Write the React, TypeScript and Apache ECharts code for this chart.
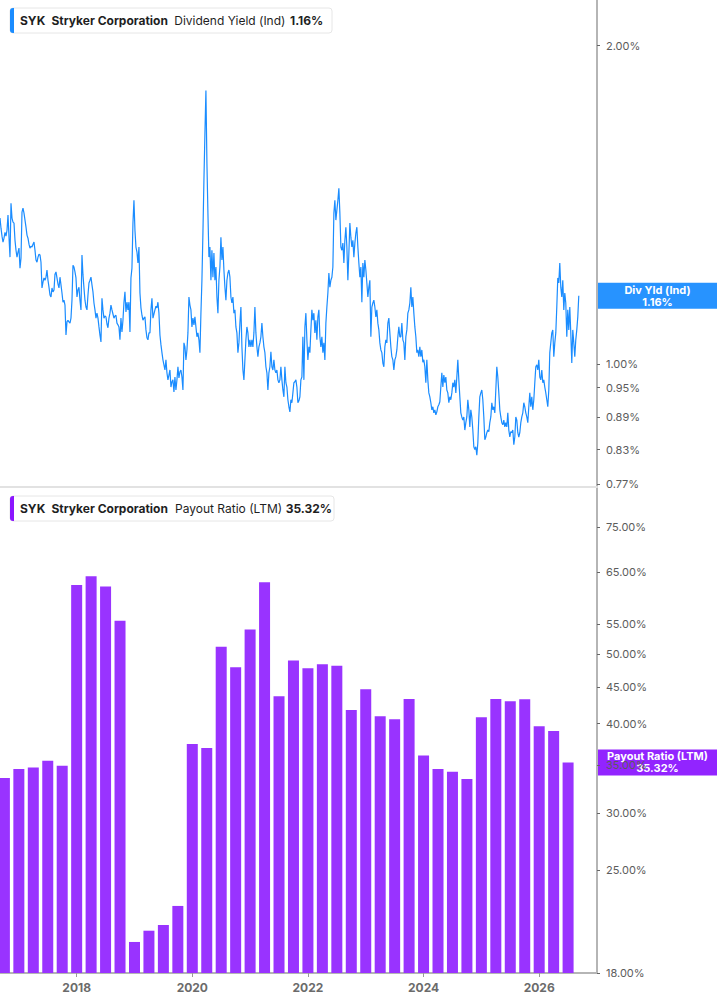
import { useEffect, useRef } from "react";
import * as echarts from "echarts";

const FONT = "Inter, 'Noto Sans', 'DejaVu Sans', sans-serif";

// Dividend yield (%), sampled about every 6.3 days from mid-Sep 2016
const yieldStartYear = 2016.674;
const yieldStepYears = 0.01729;
const yieldValues = [
  1.374, 1.344, 1.321, 1.304, 1.315, 1.332, 1.321, 1.338, 1.383, 1.318,
  1.262, 1.419, 1.374, 1.362, 1.359, 1.309, 1.281, 1.262, 1.276, 1.287,
  1.232, 1.259, 1.392, 1.404, 1.389, 1.368, 1.347, 1.324, 1.315, 1.298,
  1.287, 1.292, 1.29, 1.298, 1.304, 1.281, 1.254, 1.248, 1.262, 1.27,
  1.268, 1.248, 1.18, 1.195, 1.206, 1.2, 1.208, 1.227, 1.2, 1.182,
  1.162, 1.157, 1.18, 1.17, 1.175, 1.216, 1.222, 1.206, 1.19, 1.18,
  1.208, 1.188, 1.167, 1.144, 1.149, 1.137, 1.065, 1.096, 1.1, 1.096,
  1.093, 1.105, 1.149, 1.24, 1.235, 1.222, 1.206, 1.157, 1.175, 1.182,
  1.149, 1.125, 1.268, 1.214, 1.18, 1.149, 1.132, 1.125, 1.162, 1.193,
  1.2, 1.208, 1.188, 1.17, 1.142, 1.125, 1.105, 1.117, 1.105, 1.084,
  1.065, 1.049, 1.154, 1.125, 1.105, 1.11, 1.108, 1.091, 1.082, 1.105,
  1.117, 1.137, 1.125, 1.115, 1.105, 1.11, 1.112, 1.093, 1.089, 1.084,
  1.054, 1.105, 1.072, 1.1, 1.144, 1.17, 1.12, 1.144, 1.125, 1.144,
  1.072, 1.206, 1.232, 1.359, 1.428, 1.338, 1.29, 1.276, 1.246, 1.29,
  1.167, 1.13, 1.112, 1.1, 1.105, 1.108, 1.077, 1.059, 1.054, 1.07,
  1.07, 1.125, 1.154, 1.105, 1.115, 1.125, 1.134, 1.13, 1.144, 1.117,
  1.065, 1.043, 1.025, 1.009, 0.998, 0.987, 1.009, 0.981, 0.966, 0.976,
  0.987, 0.951, 0.962, 0.966, 0.941, 0.972, 0.945, 0.966, 0.994, 0.97,
  0.983, 0.987, 0.972, 0.945, 1.047, 1.038, 1.009, 1.031, 1.07, 1.157,
  1.137, 1.125, 1.084, 1.105, 1.089, 1.108, 1.084, 1.061, 1.07, 1.054,
  1.025, 1.117, 1.2, 1.33, 1.492, 1.652, 1.814, 1.548, 1.389, 1.262,
  1.29, 1.2, 1.281, 1.208, 1.273, 1.2, 1.235, 1.157, 1.117, 1.2,
  1.235, 1.318, 1.254, 1.29, 1.227, 1.182, 1.149, 1.2, 1.219, 1.227,
  1.208, 1.157, 1.142, 1.157, 1.117, 1.125, 1.084, 1.07, 1.025, 1.047,
  1.093, 1.132, 1.038, 0.987, 0.966, 1.009, 1.054, 1.084, 1.07, 1.038,
  1.054, 1.038, 1.054, 1.038, 1.07, 1.132, 1.07, 1.038, 1.016, 1.038,
  1.047, 1.061, 1.093, 1.061, 1.038, 1.025, 0.994, 0.981, 0.945, 0.981,
  0.994, 1.027, 0.994, 0.987, 1.009, 0.987, 0.981, 0.987, 0.966, 0.96,
  0.966, 0.994, 0.966, 0.945, 0.931, 0.994, 0.96, 0.951, 0.925, 0.911,
  0.901, 0.925, 0.919, 0.939, 0.96, 0.962, 0.966, 0.951, 0.919, 0.923,
  0.931, 0.966, 0.972, 1.061, 0.966, 1.084, 1.117, 1.054, 1.009, 1.038,
  1.025, 1.077, 1.125, 1.1, 1.117, 1.07, 1.1, 1.054, 1.108, 1.125,
  1.061, 1.038, 1.061, 1.025, 1.047, 1.009, 1.093, 1.132, 1.167, 1.219,
  1.182, 1.2, 1.208, 1.235, 1.389, 1.428, 1.368, 1.398, 1.428, 1.466,
  1.389, 1.29, 1.281, 1.301, 1.246, 1.309, 1.347, 1.29, 1.2, 1.273,
  1.359, 1.318, 1.29, 1.309, 1.262, 1.301, 1.33, 1.347, 1.29, 1.246,
  1.208, 1.235, 1.144, 1.246, 1.208, 1.254, 1.227, 1.193, 1.157, 1.182,
  1.2, 1.061, 1.132, 1.142, 1.149, 1.132, 1.108, 1.125, 1.093, 1.077,
  1.047, 1.031, 1.025, 1.002, 0.994, 1.038, 1.054, 1.047, 1.093, 1.105,
  1.07, 1.038, 1.016, 1.009, 0.987, 1.009, 1.016, 1.031, 1.061, 1.084,
  1.061, 1.061, 1.093, 1.054, 1.047, 1.009, 1.061, 1.077, 1.117, 1.125,
  1.142, 1.182, 1.132, 1.157, 1.117, 1.084, 1.061, 1.025, 1.031, 1.016,
  1.038, 1.016, 1.031, 1.004, 1.009, 0.994, 0.96, 1.009, 0.966, 0.939,
  0.931, 0.919, 0.905, 0.911, 0.899, 0.905, 0.895, 0.901, 0.911, 0.915,
  0.921, 0.951, 0.981, 0.951, 0.976, 0.96, 0.972, 0.945, 0.939, 0.919,
  0.931, 0.925, 0.939, 0.96, 0.951, 0.966, 0.939, 0.972, 1.009, 0.966,
  0.931, 0.899, 0.891, 0.885, 0.891, 0.866, 0.88, 0.891, 0.925, 0.905,
  0.872, 0.905, 0.891, 0.866, 0.835, 0.83, 0.835, 0.82, 0.842, 0.891,
  0.931, 0.939, 0.945, 0.925, 0.891, 0.848, 0.853, 0.861, 0.866, 0.863,
  0.88, 0.891, 0.919, 0.905, 0.911, 0.899, 0.945, 0.994, 0.972, 0.939,
  0.905, 0.891, 0.88, 0.876, 0.885, 0.872, 0.88, 0.872, 0.899, 0.866,
  0.853, 0.863, 0.861, 0.866, 0.839, 0.853, 0.891, 0.885, 0.861, 0.853,
  0.861, 0.88, 0.891, 0.899, 0.919, 0.911, 0.899, 0.891, 0.88, 0.911,
  0.939, 0.911, 0.931, 0.905, 0.925, 0.96, 0.994, 0.998, 0.987, 1.009,
  0.972, 0.966, 0.987, 0.96, 0.966, 0.951, 0.939, 0.925, 0.911, 0.945,
  1.025, 1.047, 1.07, 1.077, 1.016, 1.047, 1.07, 1.132, 1.206, 1.193,
  1.246, 1.182, 1.157, 1.2, 1.125, 1.167, 1.142, 1.061, 1.125, 1.077,
  1.132, 1.07, 1.002, 1.077, 1.047, 1.016, 1.054, 1.077, 1.108, 1.16,
];

// Payout ratio (LTM, %), by quarter end
const payoutQuarters = [
  "2016-09", "2016-12", "2017-03", "2017-06", "2017-09", "2017-12", "2018-03", "2018-06",
  "2018-09", "2018-12", "2019-03", "2019-06", "2019-09", "2019-12", "2020-03", "2020-06",
  "2020-09", "2020-12", "2021-03", "2021-06", "2021-09", "2021-12", "2022-03", "2022-06",
  "2022-09", "2022-12", "2023-03", "2023-06", "2023-09", "2023-12", "2024-03", "2024-06",
  "2024-09", "2024-12", "2025-03", "2025-06", "2025-09", "2025-12", "2026-03", "2026-06",
];
const payoutValues = [
  33.61, 34.59, 34.74, 35.52, 34.96, 62.35, 64.11, 62.01,
  55.61, 19.88, 20.61, 20.99, 22.31, 37.48, 37.0, 51.17,
  47.91, 54.04, 62.89, 43.66, 48.93, 47.75, 48.37, 48.15,
  41.78, 44.65, 40.95, 40.56, 43.28, 36.1, 34.59, 34.29,
  33.5, 40.82, 43.28, 42.96, 43.24, 39.66, 39.07, 35.32,
];

const yearTicks = [2018, 2020, 2022, 2024, 2026];
const yieldTicks = [0.77, 0.83, 0.89, 0.95, 1.0, 2.0];
const payoutTicks = [18, 25, 30, 35, 40, 45, 50, 55, 65, 75];

const X_MIN = 2016.674;
const X_MAX = 2027.0;
const YIELD_MIN = 0.765;
const YIELD_MAX = 2.209;
const PAYOUT_MIN = 18;
const PAYOUT_MAX = 85.3;

const BLUE = "#1a8cff";
const PURPLE = "#9933ff";
const PURPLE_TAG = "#8b16ff";
const AXIS_GREY = "#b5b5b5";

const yieldLatest = yieldValues[yieldValues.length - 1];
const payoutLatest = payoutValues[payoutValues.length - 1];

function quarterToYear(q: string): number {
  const [y, m] = q.split("-").map(Number);
  return y + m / 12;
}

function pct(v: number): string {
  return `${v.toFixed(2)}%`;
}

// legend pill: ticker, company, metric name, latest value
function legendBox(
  top: number,
  width: number,
  accent: string,
  metric: string,
  value: string,
  metricX: number,
  valueX: number,
) {
  const piece = (x: number, text: string, bold: boolean) => ({
    type: "text",
    style: {
      x,
      y: 12.5,
      verticalAlign: "middle",
      text,
      fontFamily: FONT,
      fontSize: 12,
      fontWeight: bold ? "bold" : "normal",
      fill: "#1f1f1f",
    },
  });
  return {
    type: "group",
    x: 10,
    y: top,
    z: 100,
    children: [
      {
        type: "rect",
        shape: { x: 0, y: 0, width, height: 25, r: 3 },
        style: { fill: "#ffffff", stroke: "#e6e6e6", lineWidth: 1 },
      },
      {
        type: "rect",
        shape: { x: 0, y: 0, width: 4, height: 25, r: [3, 0, 0, 3] },
        style: { fill: accent },
      },
      piece(10, "SYK", true),
      piece(41.5, "Stryker Corporation", true),
      piece(metricX, metric, false),
      piece(valueX, value, true),
    ],
  };
}

function valueTag(y: number, color: string, label: string, value: string) {
  return {
    type: "group",
    z: 100,
    children: [
      {
        type: "rect",
        shape: { x: 598, y: y - 13, width: 119, height: 26 },
        style: { fill: color, opacity: 0.94 },
      },
      {
        type: "text",
        style: {
          x: 657.5,
          y,
          align: "center",
          verticalAlign: "middle",
          text: `${label}\n${value}`,
          fontFamily: FONT,
          fontSize: 11,
          fontWeight: "bold",
          lineHeight: 12,
          fill: "#ffffff",
        },
      },
    ],
  };
}

export default function App() {
  const chartRef = useRef<HTMLDivElement | null>(null);

  useEffect(() => {
    document.body.style.margin = "0";
    if (!chartRef.current) {
      return;
    }

    const chart = echarts.init(chartRef.current, null, { renderer: "svg" });

    const lineData = yieldValues.map((v, i) => [yieldStartYear + i * yieldStepYears, Math.log(v)]);
    const barData = payoutQuarters.map((q, i) => [
      quarterToYear(q),
      Math.log(payoutValues[i] / PAYOUT_MIN),
    ]);

    chart.setOption({
      animation: false,
      textStyle: { fontFamily: FONT },
      grid: [
        { left: 0, right: 120, top: 0, height: 487 },
        { left: 0, right: 120, top: 487, height: 486 },
      ],
      xAxis: [
        {
          type: "value",
          gridIndex: 0,
          min: X_MIN,
          max: X_MAX,
          axisLine: { show: true, onZero: false, lineStyle: { color: "#e2e2e2", width: 2 } },
          axisTick: { show: false },
          axisLabel: { show: false },
          splitLine: { show: false },
        },
        {
          type: "value",
          gridIndex: 1,
          min: X_MIN,
          max: X_MAX,
          axisLine: { show: true, onZero: false, lineStyle: { color: AXIS_GREY, width: 2 } },
          axisTick: { show: true, customValues: yearTicks, length: 4, lineStyle: { color: "#999999" } },
          axisLabel: {
            customValues: yearTicks,
            formatter: (v: number) => String(Math.round(v)),
            color: "#6b6b6b",
            fontSize: 12,
            fontWeight: "bold",
            fontFamily: FONT,
            margin: 8,
          },
          splitLine: { show: false },
        },
      ],
      yAxis: [
        {
          type: "value",
          gridIndex: 0,
          position: "right",
          min: Math.log(YIELD_MIN),
          max: Math.log(YIELD_MAX),
          axisLine: { show: true, onZero: false, lineStyle: { color: AXIS_GREY, width: 2 } },
          axisTick: {
            show: true,
            customValues: yieldTicks.map((t) => Math.log(t)),
            length: 3,
            lineStyle: { color: "#666666" },
          },
          axisLabel: {
            customValues: yieldTicks.map((t) => Math.log(t)),
            formatter: (v: number) => pct(Math.exp(v)),
            color: "#5c5c5c",
            fontSize: 11,
            fontFamily: FONT,
            margin: 9,
          },
          splitLine: { show: false },
        },
        {
          type: "value",
          gridIndex: 1,
          position: "right",
          min: 0,
          max: Math.log(PAYOUT_MAX / PAYOUT_MIN),
          axisLine: { show: true, onZero: false, lineStyle: { color: AXIS_GREY, width: 2 } },
          axisTick: {
            show: true,
            customValues: payoutTicks.map((t) => Math.log(t / PAYOUT_MIN)),
            length: 3,
            lineStyle: { color: "#666666" },
          },
          axisLabel: {
            customValues: payoutTicks.map((t) => Math.log(t / PAYOUT_MIN)),
            formatter: (v: number) => pct(PAYOUT_MIN * Math.exp(v)),
            color: "#5c5c5c",
            fontSize: 11,
            fontFamily: FONT,
            margin: 9,
          },
          splitLine: { show: false },
        },
      ],
      series: [
        {
          name: "Dividend Yield (Ind)",
          type: "line",
          xAxisIndex: 0,
          yAxisIndex: 0,
          data: lineData,
          showSymbol: false,
          symbol: "none",
          clip: true,
          lineStyle: { color: BLUE, width: 1.2 },
        },
        {
          name: "Payout Ratio (LTM)",
          type: "bar",
          xAxisIndex: 1,
          yAxisIndex: 1,
          data: barData,
          barWidth: 11,
          clip: true,
          itemStyle: { color: PURPLE },
        },
      ],
    });

    const yieldY = chart.convertToPixel({ yAxisIndex: 0 }, Math.log(yieldLatest)) as number;
    const payoutY = chart.convertToPixel(
      { yAxisIndex: 1 },
      Math.log(payoutLatest / PAYOUT_MIN),
    ) as number;

    chart.setOption({
      graphic: [
        legendBox(8, 322, BLUE, "Dividend Yield (Ind)", pct(yieldLatest), 164.3, 280),
        legendBox(496, 324, PURPLE_TAG, "Payout Ratio (LTM)", pct(payoutLatest), 165, 275.7),
        valueTag(yieldY, BLUE, "Div Yld (Ind)", pct(yieldLatest)),
        valueTag(payoutY, PURPLE_TAG, "Payout Ratio (LTM)", pct(payoutLatest)),
      ],
    });

    return () => {
      chart.dispose();
    };
  }, []);

  return <div ref={chartRef} style={{ width: 717, height: 1005 }} />;
}
